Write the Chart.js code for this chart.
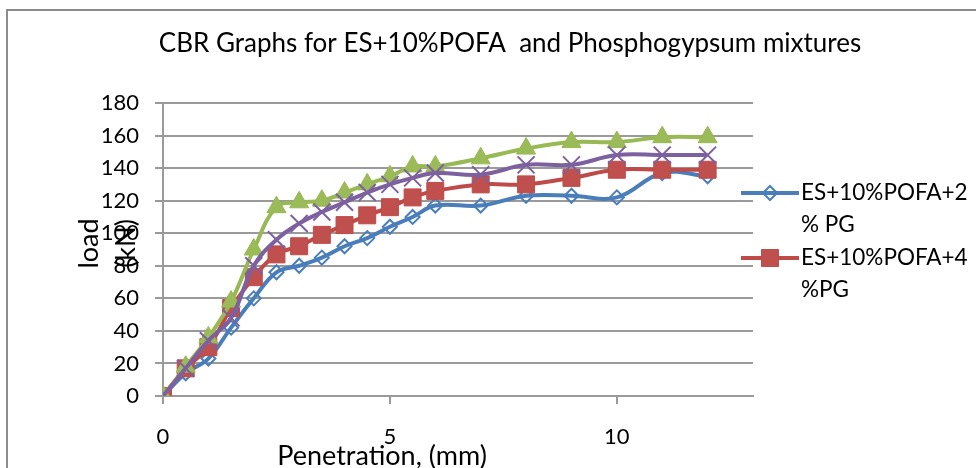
<!DOCTYPE html>
<html>
<head>
<meta charset="utf-8">
<script src="https://cdn.jsdelivr.net/npm/chart.js@4.4.1/dist/chart.umd.min.js"></script>
<style>
  body { margin: 0; overflow: hidden; background: #fff; }
  #wrap { position: absolute; left: 0; top: 0; width: 1012px; height: 468px; }
</style>
</head>
<body>
<div id="wrap"><canvas id="cbrChart" width="1012" height="468"></canvas></div>
<script>
// penetration (mm) and load (kN)
const penetration = [0, 0.5, 1, 1.5, 2, 2.5, 3, 3.5, 4, 4.5, 5, 5.5, 6, 7, 8, 9, 10, 11, 12];
const loadPG2 = [0, 14, 23, 42, 60, 76, 80, 85, 92, 97, 104, 110, 117, 117, 123, 123, 122, 137, 135];
const loadPG4 = [0, 17, 30, 54, 73, 87, 92, 99, 105, 111, 116, 122, 126, 130, 130, 134, 139, 139, 139];
const loadPG6 = [0, 18, 36, 58, 90, 116, 119, 120, 125, 130, 135, 141, 141, 146, 152, 156, 156, 159, 159];
const loadPG8 = [0, 17, 34, 48, 80, 96, 106, 113, 119, 125, 130, 134, 137, 136, 142, 142, 148, 148, 148];

const seriesNames = ['ES+10%POFA+2% PG', 'ES+10%POFA+4%PG', 'ES+10%POFA+6%PG', 'ES+10%POFA+8%PG'];
// how the legend wraps the names (only the first two fit in the picture)
const legendLines = [['ES+10%POFA+2', '% PG'], ['ES+10%POFA+4', '%PG']];

const chartTitle = 'CBR Graphs for ES+10%POFA  and Phosphogypsum mixtures';
const xTitle = 'Penetration, (mm)';
const yTitle = ['load', '(kN)'];

const xTicks = [0, 5, 10];
const yMin = 0, yMax = 180, yStep = 20;

const FONT = 'Lato, "Open Sans", sans-serif';
const GRID = '#9a9a9a';

function toPoints(ys) {
    return penetration.map((x, i) => ({ x: x, y: ys[i] }));
}

function series(i, ys, color, style, radius, fill) {
    return {
        label: seriesNames[i],
        data: toPoints(ys),
        borderColor: color,
        backgroundColor: fill,
        borderWidth: 4,
        tension: 0.4,
        pointStyle: style,
        pointRadius: radius,
        pointHoverRadius: radius,
        pointBorderColor: color,
        pointBackgroundColor: fill,
        pointBorderWidth: style === 'rect' || style === 'triangle' ? 1 : 2,
        order: 4 - i
    };
}

const framePlugin = {
    id: 'frame',
    beforeDraw(chart) {
        const ctx = chart.ctx;
        ctx.save();
        ctx.fillStyle = '#fff';
        ctx.fillRect(0, 0, chart.width, chart.height);
        ctx.strokeStyle = '#8c8c8c';
        ctx.lineWidth = 2;
        ctx.strokeRect(7, 10, chart.width + 50, chart.height + 50);
        ctx.restore();
    }
};

const textPlugin = {
    id: 'texts',
    afterDraw(chart) {
        const ctx = chart.ctx;
        const area = chart.chartArea;
        ctx.save();
        ctx.fillStyle = '#000';
        ctx.textAlign = 'center';
        ctx.textBaseline = 'middle';

        ctx.font = '26px ' + FONT;
        ctx.fillText(chartTitle, 510, 44);

        ctx.font = '27px ' + FONT;
        ctx.fillText(xTitle, area.left + 219, area.bottom + 60);

        const cy = (area.top + area.bottom) / 2 - 6;
        ctx.translate(area.left - 74, cy);
        ctx.rotate(-Math.PI / 2);
        ctx.fillText(yTitle[0], 0, 0);
        ctx.fillText(yTitle[1], 0, 37);
        ctx.restore();
    }
};

const legendPlugin = {
    id: 'sideLegend',
    afterDraw(chart) {
        const ctx = chart.ctx;
        const area = chart.chartArea;
        const x0 = area.right - 12;
        const top = area.top + 90;
        ctx.save();
        legendLines.forEach((lines, i) => {
            const ds = chart.data.datasets[i];
            const y = top + i * 65;
            ctx.strokeStyle = ds.borderColor;
            ctx.lineWidth = 4;
            ctx.beginPath();
            ctx.moveTo(x0, y);
            ctx.lineTo(x0 + 58, y);
            ctx.stroke();
            ctx.fillStyle = ds.pointBackgroundColor;
            ctx.strokeStyle = ds.pointBorderColor;
            ctx.lineWidth = ds.pointBorderWidth;
            Chart.helpers.drawPoint(ctx, {
                pointStyle: ds.pointStyle,
                radius: ds.pointRadius,
                rotation: 0,
                borderWidth: ds.pointBorderWidth
            }, x0 + 29, y);
            ctx.fillStyle = '#000';
            ctx.font = '22.5px ' + FONT;
            ctx.textAlign = 'left';
            ctx.textBaseline = 'middle';
            lines.forEach((t, k) => ctx.fillText(t, x0 + 60, y + k * 32));
        });
        ctx.restore();
    }
};

new Chart(document.getElementById('cbrChart').getContext('2d'), {
    type: 'line',
    data: {
        datasets: [
            series(0, loadPG2, '#4A7EBB', 'rectRot', 7, 'rgba(255,255,255,0)'),
            series(1, loadPG4, '#BE4B48', 'rect', 12, '#C0504D'),
            series(2, loadPG6, '#98B954', 'triangle', 11, '#9BBB59'),
            series(3, loadPG8, '#7D60A0', 'crossRot', 12, '#8064A2')
        ]
    },
    options: {
        responsive: false,
        animation: false,
        layout: { padding: { left: 0, right: 259, top: 103, bottom: 0 } },
        plugins: {
            legend: { display: false },
            tooltip: { enabled: false },
            title: { display: false }
        },
        scales: {
            x: {
                type: 'linear',
                min: 0,
                max: 13,
                afterFit(scale) { scale.height = 72; },
                afterBuildTicks(scale) { scale.ticks = xTicks.map(v => ({ value: v })); },
                ticks: {
                    color: '#000',
                    font: { family: FONT, size: 22 },
                    padding: 20,
                    maxRotation: 0
                },
                grid: { drawOnChartArea: false, drawTicks: true, tickLength: 8, color: GRID, lineWidth: 2 },
                border: { color: GRID, width: 2 }
            },
            y: {
                min: yMin,
                max: yMax,
                afterFit(scale) { scale.width = 163; },
                ticks: {
                    stepSize: yStep,
                    color: '#000',
                    font: { family: FONT, size: 22 },
                    padding: 16
                },
                grid: { color: GRID, lineWidth: 2, tickLength: 8 },
                border: { color: GRID, width: 2 }
            }
        }
    },
    plugins: [framePlugin, textPlugin, legendPlugin]
});
</script>
</body>
</html>
